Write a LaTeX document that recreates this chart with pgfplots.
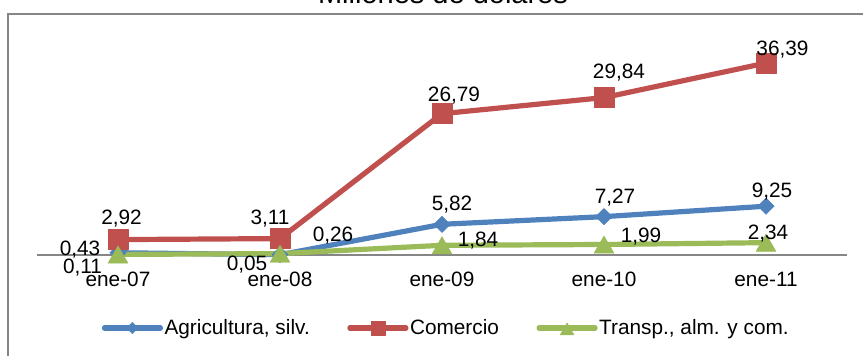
\documentclass[border=0pt]{standalone}
\usepackage{pgfplots}
\pgfplotsset{compat=1.18}
\usepackage{pgfplotstable}
\usepackage{fontspec}
\setmainfont{Liberation Sans}

\definecolor{agri}{HTML}{4F81BD}
\definecolor{comer}{HTML}{C0504D}
\definecolor{trans}{HTML}{9BBB59}
\definecolor{frame}{HTML}{868686}
\newcommand\lblfont{\fontsize{20.8}{24}\selectfont}

% x = category index, y = value, dx/dy = label offset from the point
\pgfplotstableread{
x y dx dy
0 0.43 -38 -3.2
1 0.05 -33 -16.2
2 5.82 10 13.6
3 7.27 11 13.3
4 9.25 6 8.6
}\agri
\pgfplotstableread{
x y dx dy
0 2.92 3.5 14.6
1 3.11 -10 13.6
2 26.79 12 12.6
3 29.84 15 18.6
4 36.39 16.5 7.6
}\comer
\pgfplotstableread{
x y dx dy
0 0.11 -35.5 -16.4
1 0.26 53 14.6
2 1.84 36 1.9
3 1.99 37 5.1
4 2.34 2 6.3
}\trans

\pgfplotsset{
  vallabel/.style={
    visualization depends on={\thisrow{dx} \as \dx},
    visualization depends on={\thisrow{dy} \as \dy},
    nodes near coords={\pgfmathprintnumber[fixed,fixed zerofill,precision=2,use comma,assume math mode=true]{\pgfplotspointmeta}},
    every node near coord/.append style={anchor=base, inner sep=0pt,
      xshift=\dx pt, yshift=\dy pt, font=\lblfont, text=black},
  },
}

\begin{document}
\begin{tikzpicture}
\draw[frame, line width=2pt] (8pt,-20pt) rectangle (880pt,342pt);
\node[anchor=base, font=\fontsize{29}{32}\selectfont] at (443pt,352pt) {Millones de dólares};
\begin{axis}[
  at={(37pt,101pt)}, anchor=south west,
  scale only axis, width=810pt, height=211pt,
  xmin=-0.5, xmax=4.5, ymin=0, ymax=40,
  axis x line*=bottom, axis y line=none,
  x axis line style={-, frame, line width=1.3pt},
  xtick={0,...,4},
  xticklabels={ene-07,ene-08,ene-09,ene-10,ene-11},
  major tick length=0pt,
  xticklabel style={anchor=base, inner sep=0pt, yshift=-32pt, font=\lblfont},
  clip=false,
  legend columns=3,
  legend style={draw=none, fill=none, at={(rel axis cs:0.505,-0.346)}, anchor=center,
    font=\lblfont, nodes={inner sep=1.5pt},
    /tikz/every even column/.append style={column sep=36pt}},
  legend image code/.code={
    \draw[mark repeat=2, mark phase=2, every mark/.append style={scale=0.7}]
      plot coordinates {(0pt,0pt) (28pt,0pt) (56pt,0pt)};},
]
\addplot[agri, line width=5.2pt, line join=round, line cap=round,
  mark=square*, mark size=5.8pt,
  mark options={solid, line width=0.4pt, rotate=45}, vallabel]
  table[x=x, y=y] {\agri};
\addlegendentry{Agricultura, silv.}
\addplot[comer, line width=5.2pt, line join=round, line cap=round,
  mark=square*, mark size=10pt,
  mark options={solid, line width=0.4pt}, vallabel]
  table[x=x, y=y] {\comer};
\addlegendentry{Comercio}
\addplot[trans, line width=5.2pt, line join=round, line cap=round,
  mark=triangle*, mark size=11.5pt,
  mark options={solid, line width=0.4pt, yshift=-2.9pt}, vallabel]
  table[x=x, y=y] {\trans};
\addlegendentry{Transp., alm. y com.}
\end{axis}
\pgfresetboundingbox
\path[use as bounding box] (0,0) rectangle (863pt,356pt);
\end{tikzpicture}
\end{document}
